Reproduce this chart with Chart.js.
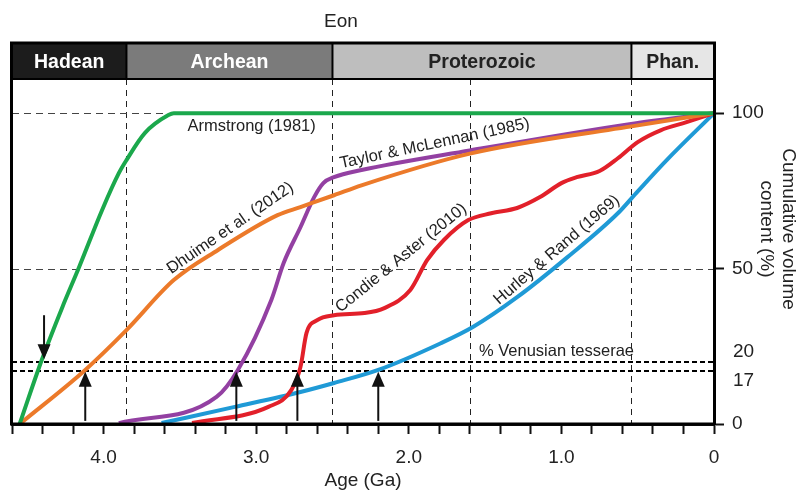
<!DOCTYPE html>
<html>
<head>
<meta charset="utf-8">
<script src="https://cdn.jsdelivr.net/npm/chart.js@4.4.1/dist/chart.umd.min.js"></script>
<style>
  html, body { margin: 0; padding: 0; background: #fff; }
  #wrap { width: 798px; height: 490px; position: relative; }
</style>
</head>
<body>
<div id="wrap"><canvas id="crustChart"></canvas></div>
<script>
// age (Ga) / cumulative volume (%) pairs
const armstrongAge = [4.55, 4.405, 4.27, 4.16, 4.01, 3.90, 3.85, 3.73, 3.575, 3.54, 0];
const armstrongVol = [0, 20.6, 37.6, 50.5, 68.8, 80.7, 84.9, 93.6, 99.4, 100, 100];

const dhuimeAge = [4.55, 4.12, 3.85, 3.54, 3.25, 2.86, 2.71, 2.49, 2.31, 1.6, 0.51, 0];
const dhuimeVol = [0, 17.4, 30.2, 46.3, 56, 67.2, 69.8, 73.6, 76.8, 87, 96, 100];

const taylorAge = [3.9, 3.26, 3.12, 2.9, 2.82, 2.71, 2.62, 2.56, 2.49, 2.31, 1.6, 0.51, 0];
const taylorVol = [0.3, 8.7, 17.4, 40, 51.8, 63.3, 73, 77.5, 79.4, 81.7, 88, 96.8, 100];

const condieAge = [3.42, 2.92, 2.77, 2.71, 2.67, 2.6, 2.49, 2.29, 2.16, 1.99, 1.88, 1.77, 1.61, 1.46, 1.29, 1.14, 1.0, 0.9, 0.75, 0.63, 0.5, 0.35, 0.18, 0];
const condieVol = [0.3, 5.5, 10.9, 18.3, 29.3, 33.4, 35, 35.7, 37.3, 43.1, 52.7, 59.2, 65.6, 67.8, 69.5, 73, 77.5, 79.4, 81.4, 85.5, 90.7, 94.5, 97.1, 100];

const hurleyAge = [3.62, 3.14, 2.71, 2.49, 2.2, 1.79, 1.58, 1.29, 0.96, 0.63, 0.51, 0.31, 0];
const hurleyVol = [0.3, 5.5, 10.3, 13.2, 17.4, 26, 31.2, 40.8, 53.7, 67.8, 74.3, 84.9, 100];

// eons
const eonNames = ['Hadean', 'Archean', 'Proterozoic', 'Phan.'];
const eonStart = [4.6, 3.85, 2.5, 0.541];
const eonEnd = [3.85, 2.5, 0.541, 0];

// reference lines
const boundaryAges = [3.85, 2.5, 1.6, 0.541];
const greyLevels = [100, 50];
const tesseraeLevels = [20, 17];
const yTickValues = [0, 17, 20, 50, 100];

// arrows: age, from %, to %
const arrowAge = [4.39, 4.12, 3.13, 2.73, 2.2];
const arrowFrom = [35, 1, 1, 1, 1];
const arrowTo = [20.8, 16.8, 16.8, 16.8, 16.8];

// curve labels: text, age, %, angle (deg)
const labelText = ['Armstrong (1981)', 'Taylor & McLennan (1985)', 'Dhuime et al. (2012)', 'Condie & Aster (2010)', 'Hurley & Rand (1969)'];
const labelAge = [3.03, 1.83, 3.17, 2.05, 1.03];
const labelVol = [95.8, 90.2, 63, 53.4, 56];
const labelAngle = [0, -12, -34.5, -39, -40.5];

function pts(xs, ys) {
  return xs.map((x, i) => ({ x: x, y: ys[i] }));
}

const FONT = "'Liberation Sans', Arial, sans-serif";
Chart.defaults.font.family = FONT;

function line(label, xs, ys, color) {
  return {
    label: label,
    data: pts(xs, ys),
    borderColor: color,
    borderWidth: 4,
    pointRadius: 0,
    fill: false,
    cubicInterpolationMode: 'monotone'
  };
}

const decor = {
  id: 'decor',
  beforeDatasetsDraw(chart) {
    const { ctx, chartArea: a, scales: { x, y } } = chart;
    ctx.save();
    // vertical eon / era boundaries
    ctx.strokeStyle = '#222';
    ctx.lineWidth = 1;
    ctx.setLineDash([6, 5]);
    boundaryAges.forEach(g => {
      const px = Math.round(x.getPixelForValue(g)) + 0.5;
      ctx.beginPath();
      ctx.moveTo(px, a.top);
      ctx.lineTo(px, a.bottom);
      ctx.stroke();
    });
    // grey dashed levels
    ctx.strokeStyle = '#444';
    ctx.setLineDash([7, 5]);
    greyLevels.forEach(v => {
      const py = Math.round(y.getPixelForValue(v)) + 0.5;
      ctx.beginPath();
      ctx.moveTo(a.left, py);
      ctx.lineTo(a.right, py);
      ctx.stroke();
    });
    // tesserae levels
    ctx.strokeStyle = '#000';
    ctx.lineWidth = 2;
    ctx.setLineDash([5, 3]);
    tesseraeLevels.forEach(v => {
      const py = Math.round(y.getPixelForValue(v));
      ctx.beginPath();
      ctx.moveTo(a.left, py);
      ctx.lineTo(a.right, py);
      ctx.stroke();
    });
    ctx.restore();
  },
  afterDraw(chart) {
    const { ctx, chartArea: a, scales: { x, y } } = chart;
    ctx.save();

    // eon band
    const bandTop = 44, bandBot = a.top;
    const fills = ['#1c1c1c', '#7b7b7b', '#bebebe', '#e6e6e6'];
    const txt = ['#fff', '#fff', '#222', '#222'];
    eonNames.forEach((n, i) => {
      const x0 = x.getPixelForValue(eonStart[i]);
      const x1 = x.getPixelForValue(eonEnd[i]);
      ctx.fillStyle = fills[i];
      ctx.fillRect(x0, bandTop, x1 - x0, bandBot - bandTop);
      ctx.fillStyle = txt[i];
      ctx.font = 'bold 19.5px ' + FONT;
      ctx.textAlign = 'center';
      ctx.textBaseline = 'middle';
      ctx.fillText(n, (x0 + x1) / 2, (bandTop + bandBot) / 2 + 1);
    });
    ctx.strokeStyle = '#000';
    ctx.lineWidth = 2;
    eonStart.slice(1).forEach(g => {
      const px = x.getPixelForValue(g);
      ctx.beginPath();
      ctx.moveTo(px, bandTop);
      ctx.lineTo(px, bandBot);
      ctx.stroke();
    });
    ctx.beginPath();
    ctx.moveTo(a.left, bandBot);
    ctx.lineTo(a.right, bandBot);
    ctx.stroke();

    // outer frame
    ctx.lineWidth = 3;
    ctx.strokeRect(a.left - 0.5, bandTop - 1, a.right - a.left + 1, a.bottom - bandTop + 1);

    // Eon title
    ctx.fillStyle = '#222';
    ctx.font = '19px ' + FONT;
    ctx.textAlign = 'center';
    ctx.textBaseline = 'middle';
    ctx.fillText('Eon', 341, 22);

    // 20 / 17 tick labels, pushed apart
    ctx.font = '19px ' + FONT;
    ctx.textAlign = 'left';
    ctx.fillText('20', a.right + 19, y.getPixelForValue(20) - 10);
    ctx.fillText('17', a.right + 19, y.getPixelForValue(17) + 10);

    // arrows
    ctx.fillStyle = '#111';
    ctx.strokeStyle = '#111';
    ctx.lineWidth = 2;
    arrowAge.forEach((g, i) => {
      const px = x.getPixelForValue(g);
      const y0 = y.getPixelForValue(arrowFrom[i]);
      const y1 = y.getPixelForValue(arrowTo[i]);
      const dir = y1 > y0 ? 1 : -1;
      ctx.beginPath();
      ctx.moveTo(px, y0);
      ctx.lineTo(px, y1 - dir * 10);
      ctx.stroke();
      ctx.beginPath();
      ctx.moveTo(px, y1);
      ctx.lineTo(px - 6.5, y1 - dir * 15);
      ctx.lineTo(px + 6.5, y1 - dir * 15);
      ctx.closePath();
      ctx.fill();
    });

    // curve labels
    ctx.fillStyle = '#222';
    ctx.font = '16.5px ' + FONT;
    ctx.textAlign = 'center';
    ctx.textBaseline = 'middle';
    labelText.forEach((t, i) => {
      ctx.save();
      ctx.translate(x.getPixelForValue(labelAge[i]), y.getPixelForValue(labelVol[i]));
      ctx.rotate(labelAngle[i] * Math.PI / 180);
      ctx.fillText(t, 0, 0);
      ctx.restore();
    });
    ctx.textAlign = 'left';
    ctx.fillText('% Venusian tesserae', x.getPixelForValue(1.54), y.getPixelForValue(23.5));

    // right axis title
    ctx.save();
    ctx.translate(777, 229);
    ctx.rotate(Math.PI / 2);
    ctx.font = '19px ' + FONT;
    ctx.fillStyle = '#222';
    ctx.textAlign = 'center';
    ctx.fillText('Cumulative volume', 0, -11);
    ctx.fillText('content (%)', 0, 11);
    ctx.restore();

    ctx.restore();
  }
};

const ctx = document.getElementById('crustChart').getContext('2d');
const crustChart = new Chart(ctx, {
  type: 'line',
  data: {
    datasets: [
      line('Armstrong (1981)', armstrongAge, armstrongVol, '#1ba84c'),
      line('Dhuime et al. (2012)', dhuimeAge, dhuimeVol, '#ec7a2a'),
      line('Taylor & McLennan (1985)', taylorAge, taylorVol, '#9340a2'),
      line('Condie & Aster (2010)', condieAge, condieVol, '#e2202a'),
      line('Hurley & Rand (1969)', hurleyAge, hurleyVol, '#1f9ad6')
    ]
  },
  options: {
    responsive: true,
    maintainAspectRatio: false,
    animation: false,
    layout: { padding: { top: 79, left: 10, right: 0, bottom: 0 } },
    scales: {
      x: {
        type: 'linear',
        reverse: true,
        min: 0,
        max: 4.6,
        afterFit: s => { s.height = 66; },
        ticks: {
          stepSize: 0.2,
          autoSkip: false,
          maxRotation: 0,
          padding: 12,
          color: '#222',
          font: { size: 19 },
          callback: v => Math.abs(v - Math.round(v)) < 1e-6 ? (Math.round(v) === 0 ? '0' : Math.round(v).toFixed(1)) : ''
        },
        grid: {
          display: true,
          drawOnChartArea: false,
          drawTicks: true,
          tickLength: 10,
          tickWidth: 2,
          color: '#111',
          tickColor: '#111'
        },
        border: { display: true, color: '#111', width: 3 },
        title: {
          display: true,
          text: 'Age (Ga)',
          color: '#222',
          font: { size: 19, lineHeight: 1 },
          padding: { top: 0, bottom: 0 }
        }
      },
      y: {
        position: 'right',
        min: 0,
        max: 111,
        afterFit: s => { s.width = 84; },
        afterBuildTicks: s => { s.ticks = yTickValues.map(v => ({ value: v })); },
        ticks: {
          padding: 8,
          color: '#222',
          font: { size: 19 },
          callback: v => (v === 17 || v === 20) ? '' : String(v)
        },
        grid: {
          display: true,
          drawOnChartArea: false,
          drawTicks: true,
          tickLength: 10,
          tickWidth: 2,
          color: '#111',
          tickColor: c => [0, 50, 100].includes(c.tick && c.tick.value) ? '#111' : 'rgba(0,0,0,0)'
        },
        border: { display: true, color: '#111', width: 3 }
      }
    },
    plugins: {
      legend: { display: false },
      tooltip: { enabled: false }
    }
  },
  plugins: [decor]
});
</script>
</body>
</html>
